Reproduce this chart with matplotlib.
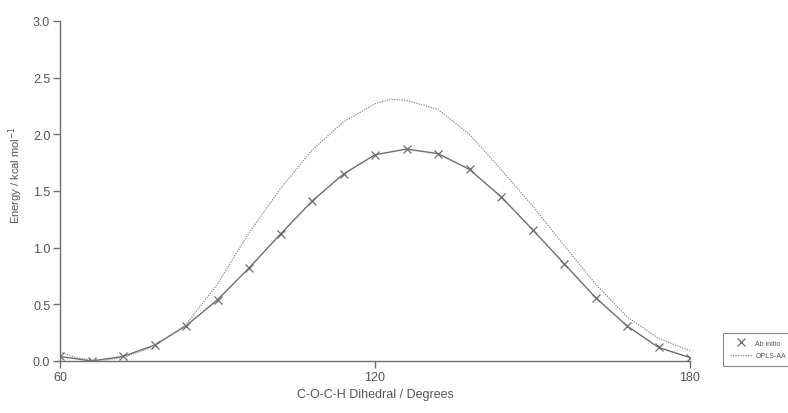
import matplotlib
matplotlib.use('agg')
import matplotlib.pyplot as plt
from matplotlib.lines import Line2D

plt.rcParams['font.family'] = ['Liberation Sans', 'DejaVu Sans']

# dihedral angles (degrees)
angles = [60, 66, 72, 78, 84, 90, 96, 102, 108, 114, 120,
          126, 132, 138, 144, 150, 156, 162, 168, 174, 180]

# ab initio energies (kcal/mol)
ab_initio = [0.04, 0.00, 0.04, 0.14, 0.31, 0.54, 0.82, 1.12, 1.41, 1.65, 1.82,
             1.87, 1.83, 1.69, 1.45, 1.16, 0.86, 0.56, 0.31, 0.12, 0.03]

# OPLS-AA curve
opls_angles = [60, 63, 66, 69, 72, 78, 84, 90, 96, 102, 108, 114, 120, 123,
               126, 132, 138, 144, 150, 156, 162, 168, 174, 180]
opls = [0.08, 0.03, 0.01, 0.01, 0.03, 0.13, 0.32, 0.68, 1.13, 1.52, 1.86, 2.11, 2.27, 2.31,
        2.30, 2.22, 2.00, 1.69, 1.37, 1.02, 0.68, 0.39, 0.20, 0.09]

grey = '#6e6e6e'
text_grey = '#555555'

fig = plt.figure(figsize=(7.88, 4.14), dpi=100)
ax = fig.add_axes([60 / 788, 1 - 362 / 414, 630 / 788, 340 / 414])

ax.plot(angles, ab_initio, color=grey, lw=1.0, marker='x', ms=6, mew=0.9)
ax.plot(opls_angles, opls, color='#8a8a8a', lw=0.9, ls=(0, (1, 1)))

ax.set_xlim(60, 180)
ax.set_ylim(0, 3.0)
ax.set_xticks([60, 120, 180])
ax.set_yticks([0.0, 0.5, 1.0, 1.5, 2.0, 2.5, 3.0])
ax.set_yticklabels(['%.1f' % v for v in [0.0, 0.5, 1.0, 1.5, 2.0, 2.5, 3.0]])

for side in ['top', 'right']:
    ax.spines[side].set_visible(False)
for side in ['left', 'bottom']:
    ax.spines[side].set_color(grey)
    ax.spines[side].set_linewidth(1.0)

ax.tick_params(direction='out', length=5, width=1.0, color=grey,
               labelcolor=text_grey, labelsize=9, pad=2)

ax.set_xlabel('C-O-C-H Dihedral / Degrees', fontsize=9, color=text_grey,
              labelpad=4)
ax.set_ylabel('Energy / kcal mol$^{-1}$', fontsize=8, color=text_grey)
ax.yaxis.set_label_coords(-0.055, 0.55)

handles = [Line2D([], [], color=grey, ls='none', marker='x', ms=6, mew=0.9),
           Line2D([], [], color='#8a8a8a', lw=0.9, ls=(0, (1, 1)))]
leg = fig.legend(handles, ['Ab initio', 'OPLS-AA'], loc='upper left',
                 bbox_to_anchor=(720 / 788, 1 - 331 / 414),
                 fontsize=5, frameon=True, fancybox=False, handlelength=3.2,
                 borderpad=0.9, labelspacing=0.8, handletextpad=0.5)
leg.get_frame().set_edgecolor(grey)
leg.get_frame().set_linewidth(0.8)
for t in leg.get_texts():
    t.set_color(text_grey)

fig.savefig('out.png', dpi=100)
